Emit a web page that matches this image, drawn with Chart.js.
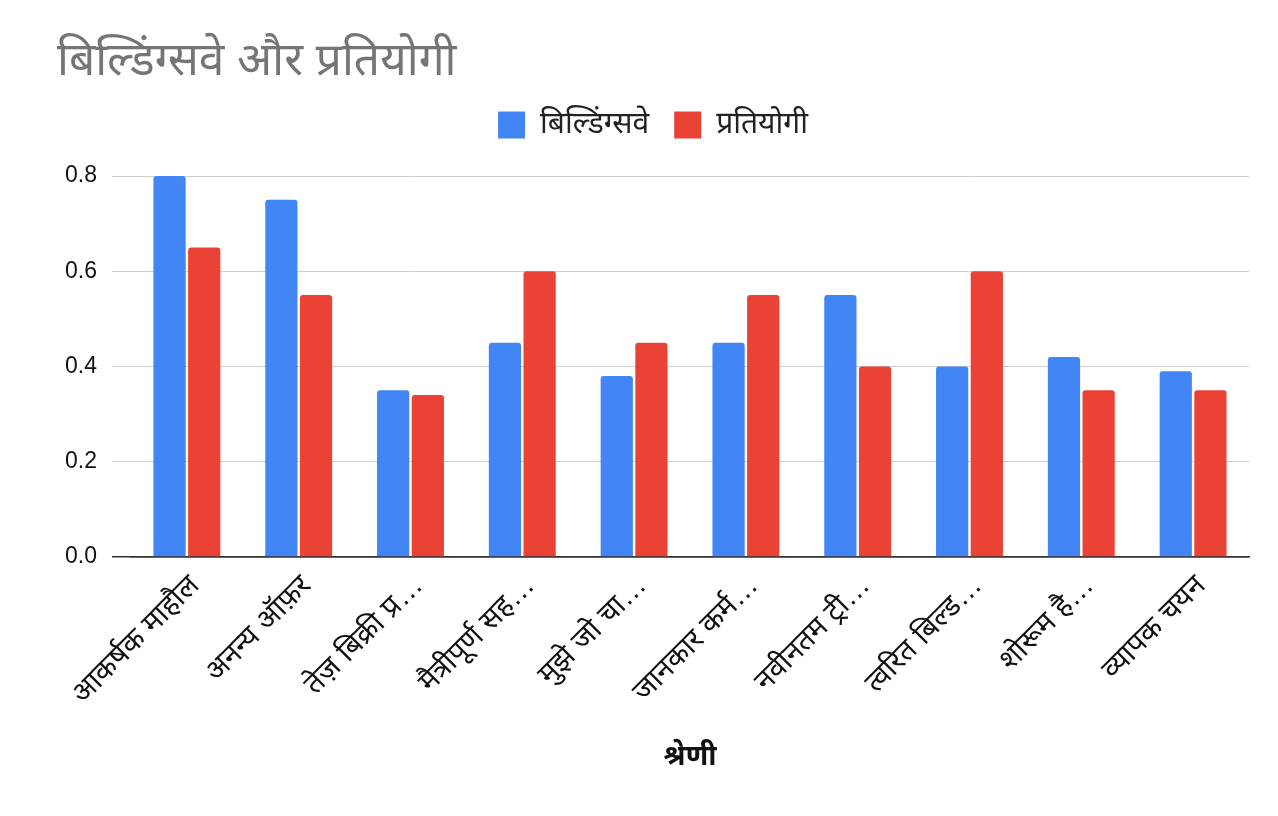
<!DOCTYPE html>
<html>
<head>
<meta charset="utf-8">
<script src="https://cdn.jsdelivr.net/npm/chart.js@4"></script>
<style>
  html, body { margin: 0; padding: 0; background: #fff; }
  #wrap { width: 1278px; height: 816px; }
</style>
</head>
<body>
<div id="wrap"><canvas id="chart"></canvas></div>
<script>
// categories (truncated as they appear in the chart)
const categories = [
  'आकर्षक माहौल', 'अनन्य ऑफ़र', 'तेज़ बिक्री प्र…', 'मैत्रीपूर्ण सह…', 'मुझे जो चा…',
  'जानकार कर्म…', 'नवीनतम ट्री…', 'त्वरित बिल्ड…', 'शोरूम है…', 'व्यापक चयन'
];
const buildingsway = [0.80, 0.75, 0.35, 0.45, 0.38, 0.45, 0.55, 0.40, 0.42, 0.39];
const competitors  = [0.65, 0.55, 0.34, 0.60, 0.45, 0.55, 0.40, 0.60, 0.35, 0.35];
const yTicks = [0, 0.2, 0.4, 0.6, 0.8];

const FONT = "Arial, 'Liberation Sans', 'Noto Sans', sans-serif";

// give the legend some extra room below it
const legendGap = {
    id: 'legendGap',
    beforeInit(chart) {
        const fit = chart.legend.fit;
        chart.legend.fit = function () {
            fit.bind(chart.legend)();
            this.height += 26;
        };
    }
};

const isZero = (c) => c.tick && c.tick.value === 0;

let ctx = document.getElementById('chart').getContext('2d');
let chart = new Chart(ctx, {
    type: 'bar',
    data: {
        labels: categories,
        datasets: [{
            label: 'बिल्डिंग्सवे',
            data: buildingsway,
            backgroundColor: '#4285f4',
            borderRadius: 3,
            borderSkipped: 'bottom'
        }, {
            label: 'प्रतियोगी',
            data: competitors,
            backgroundColor: '#ea4335',
            borderRadius: 3,
            borderSkipped: 'bottom'
        }]
    },
    plugins: [legendGap],
    options: {
        responsive: true,
        maintainAspectRatio: false,
        animation: false,
        categoryPercentage: 0.62,
        barPercentage: 0.93,
        layout: { padding: { left: 57, right: 29, top: 0, bottom: 0 } },
        plugins: {
            title: {
                display: true,
                text: 'बिल्डिंग्सवे और प्रतियोगी',
                align: 'start',
                color: '#757575',
                font: { family: FONT, size: 46, weight: 'normal', lineHeight: 1 },
                padding: { top: 39, bottom: 0 }
            },
            legend: {
                display: true,
                position: 'top',
                labels: {
                    color: '#222',
                    font: { family: FONT, size: 30 },
                    boxWidth: 27,
                    boxHeight: 27,
                    padding: 25
                }
            },
            tooltip: { enabled: false }
        },
        scales: {
            x: {
                grid: { display: false, drawTicks: false },
                border: { display: true, color: '#333', width: 1.5 },
                ticks: {
                    color: '#111',
                    font: { family: FONT, size: 29 },
                    maxRotation: 45,
                    minRotation: 45,
                    padding: 12,
                    labelOffset: 8,
                    autoSkip: false
                },
                title: {
                    display: true,
                    text: 'श्रेणी',
                    color: '#111',
                    font: { family: FONT, size: 28, weight: 'bold' },
                    padding: { top: 0, bottom: 42 }
                },
                afterFit: (scale) => { scale.height = 259; }
            },
            y: {
                min: 0,
                max: 0.8,
                grid: {
                    color: (c) => isZero(c) ? '#333' : '#cfcfcf',
                    lineWidth: (c) => isZero(c) ? 1.5 : 1,
                    tickColor: (c) => isZero(c) ? '#333' : '#cfcfcf',
                    tickWidth: (c) => isZero(c) ? 1.5 : 1,
                    drawTicks: true,
                    tickLength: 19
                },
                border: { display: false },
                afterBuildTicks: (scale) => { scale.ticks = yTicks.map(v => ({ value: v })); },
                ticks: {
                    color: '#111',
                    font: { family: FONT, size: 23 },
                    padding: 15,
                    callback: (v) => Number(v).toFixed(1)
                },
                afterFit: (scale) => { scale.width = 74; }
            }
        }
    }
});
</script>
</body>
</html>
